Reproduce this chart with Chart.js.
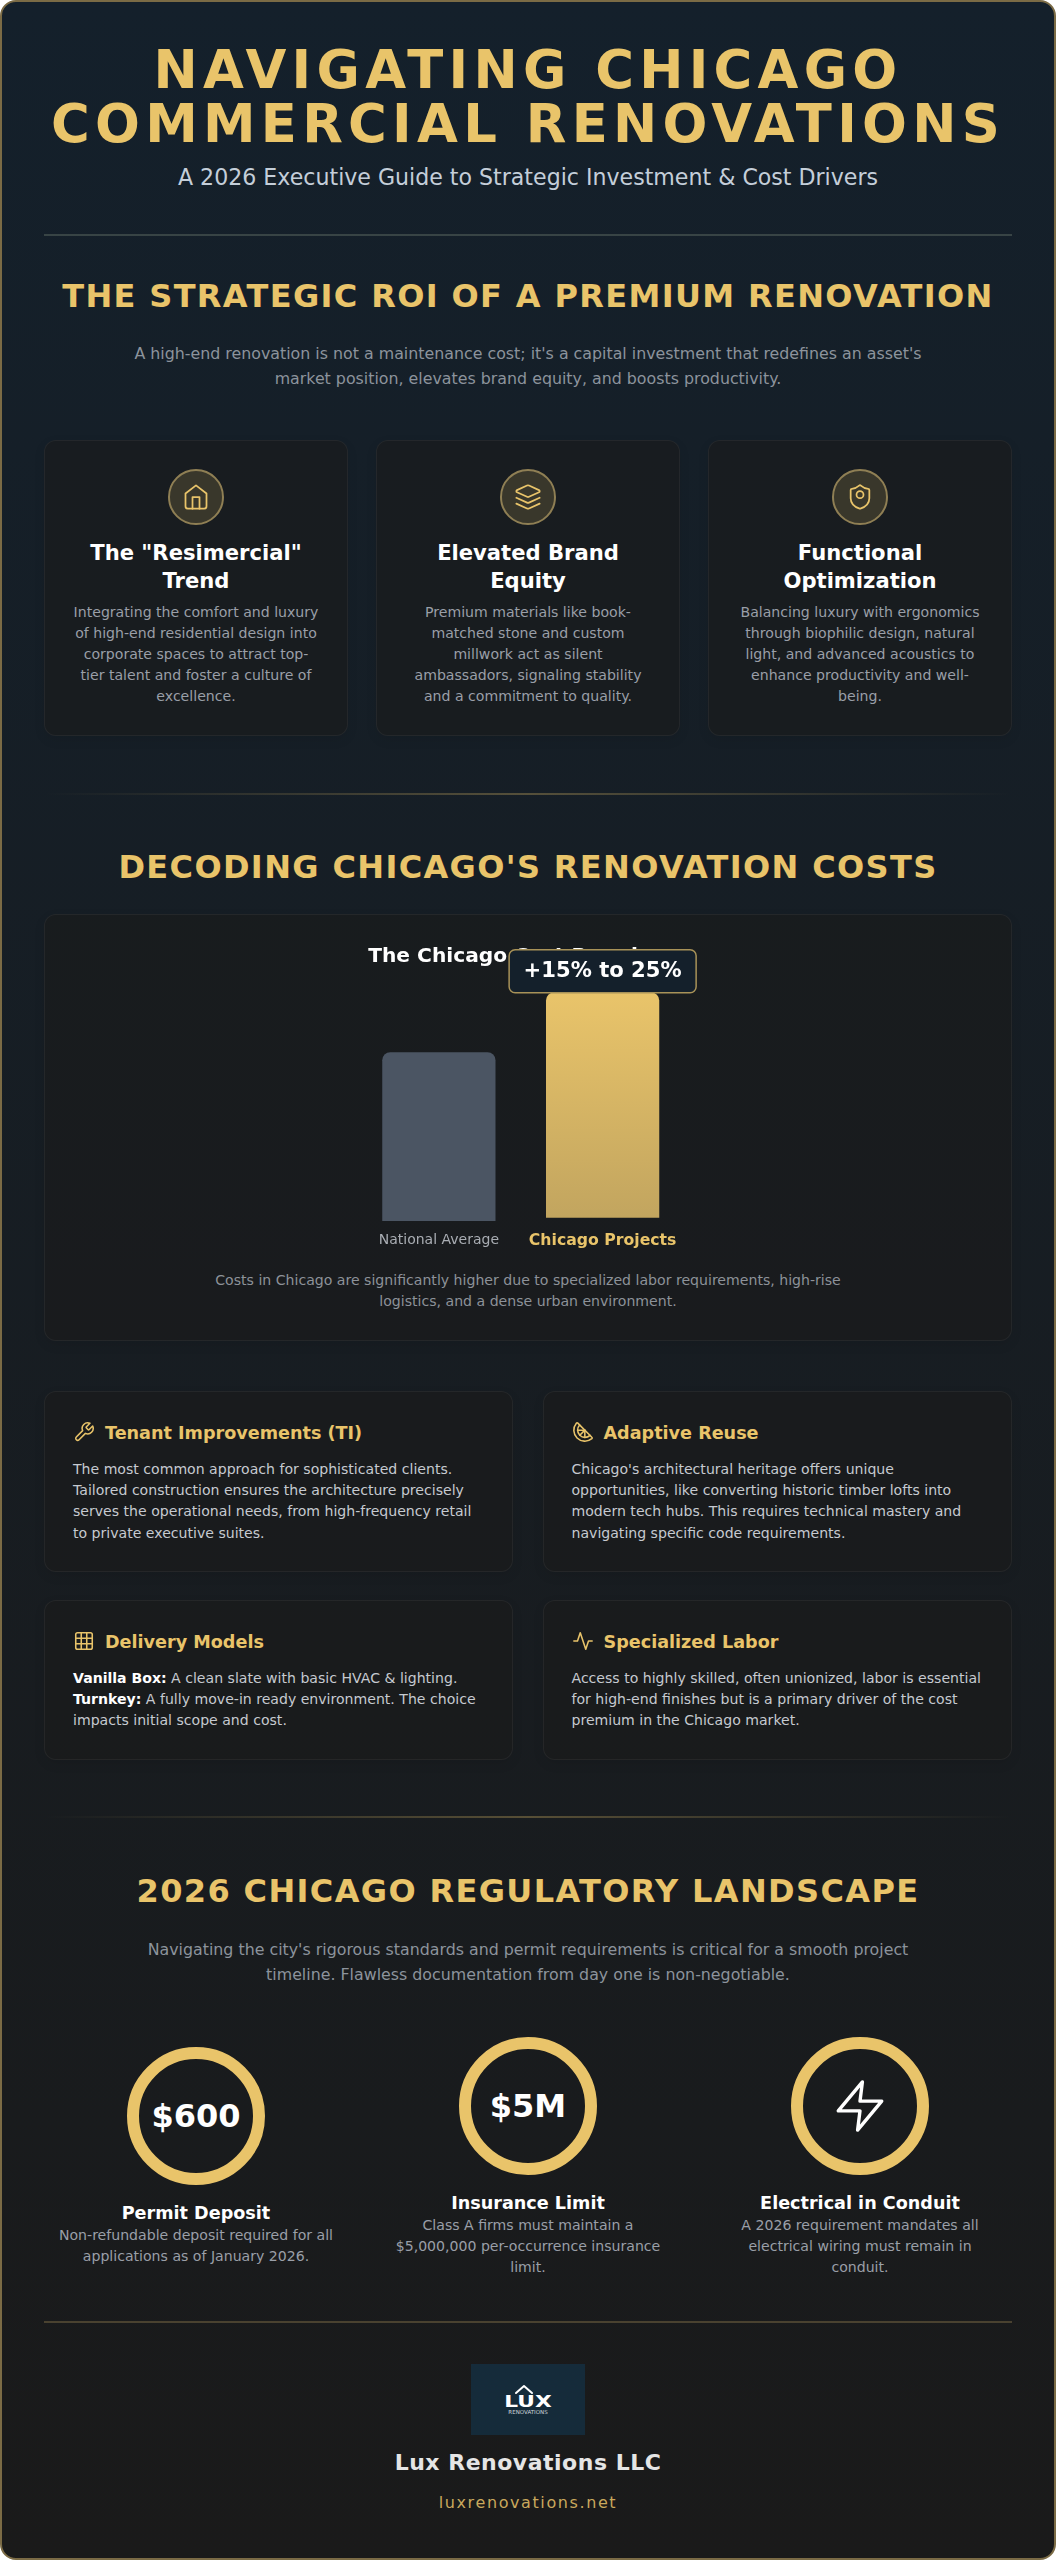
<!DOCTYPE html>
<html lang="en"><head><meta charset="utf-8">
<title>Navigating Chicago Commercial Renovations</title>
<script src="https://cdn.jsdelivr.net/npm/chart.js@4"></script>
<style>
html,body{margin:0;padding:0;background:#fff}
body{width:1056px;height:2560px;position:relative;overflow:hidden;font-family:"DejaVu Sans",sans-serif}
#frame{position:absolute;left:0;top:0;width:1056px;height:2560px;box-sizing:border-box;border:2px solid #7b6b45;border-radius:16px;background:linear-gradient(180deg,#14202b 0%,#1a1a1a 100%)}
.a{position:absolute}
.c{position:absolute;text-align:center;white-space:nowrap;left:0;width:1056px}
.gold{color:#e9c46a;font-weight:700}
h1,h2,h3,p{margin:0;font-weight:inherit;font-size:inherit}
.h2{font-size:32px;line-height:40px;letter-spacing:1.36px}
.lead{font-size:15.84px;line-height:25px;color:#8c939c}
.card{position:absolute;box-sizing:border-box;background:rgba(26,26,26,.6);border:1px solid rgba(255,255,255,.05);border-radius:12px;box-shadow:0 4px 12px rgba(0,0,0,.08)}
.ring{position:absolute;left:50%;transform:translateX(-50%);top:28px;width:56px;height:56px;box-sizing:border-box;border-radius:50%;background:rgba(233,196,106,.16);border:2px solid #8f7f54;display:flex;align-items:center;justify-content:center}
.ct{position:absolute;left:0;right:0;top:98px;text-align:center;color:#fff;font-weight:700;font-size:21.12px;line-height:28px;white-space:nowrap}
.cd{position:absolute;left:0;right:0;top:161px;text-align:center;color:#9a9fa8;font-size:14.1px;line-height:21px;white-space:nowrap}
.ih{position:absolute;left:60px;color:#e9c46a;font-weight:700;font-size:17.6px;line-height:24px;white-space:nowrap}
.ib{position:absolute;left:28px;color:#c6cad0;font-size:14.08px;line-height:21.2px;white-space:nowrap}
.ib b{color:#fff;font-weight:700}
.ii{position:absolute;left:28px}
svg{display:block;fill:none;stroke-linecap:round;stroke-linejoin:round}
.rc{position:absolute;box-sizing:border-box;width:138px;height:138px;border:12px solid #e9c46a;border-radius:50%;display:flex;align-items:center;justify-content:center;color:#fff;font-weight:700;font-size:32px}
.rt{color:#fff;font-weight:700;font-size:17.6px;line-height:24px}
.rd{color:#9a9fa8;font-size:14.1px;line-height:21.2px}
.w{position:absolute;text-align:center;white-space:nowrap;width:332px}
</style></head><body>
<div id="frame"></div>

<h1 class="c gold" style="top:43px;font-size:52.8px;line-height:53.5px;letter-spacing:5.28px">NAVIGATING CHICAGO<br>COMMERCIAL RENOVATIONS</h1>
<p class="c" style="top:162px;font-size:22.1px;line-height:30px;color:#c4ced9">A 2026 Executive Guide to Strategic Investment &amp; Cost Drivers</p>
<div class="a" style="left:44px;top:234px;width:968px;height:2px;background:#384445"></div>

<h2 class="c gold h2" style="top:276px">THE STRATEGIC ROI OF A PREMIUM RENOVATION</h2>
<p class="c lead" style="top:341px">A high-end renovation is not a maintenance cost; it's a capital investment that redefines an asset's<br>market position, elevates brand equity, and boosts productivity.</p>

<div class="card" style="left:44px;top:440px;width:304px;height:296px">
 <div class="ring"><svg width="28" height="28" viewBox="0 0 24 24" stroke="#e9c46a" stroke-width="1.5"><path d="m3 9 9-7 9 7v11a2 2 0 0 1-2 2H5a2 2 0 0 1-2-2z"/><polyline points="9 22 9 12 15 12 15 22"/></svg></div>
 <h3 class="ct">The "Resimercial"<br>Trend</h3>
 <p class="cd">Integrating the comfort and luxury<br>of high-end residential design into<br>corporate spaces to attract top-<br>tier talent and foster a culture of<br>excellence.</p>
</div>
<div class="card" style="left:376px;top:440px;width:304px;height:296px">
 <div class="ring"><svg width="28" height="28" viewBox="0 0 24 24" stroke="#e9c46a" stroke-width="1.5"><path d="m12.83 2.18a2 2 0 0 0-1.66 0L2.6 6.08a1 1 0 0 0 0 1.83l8.58 3.91a2 2 0 0 0 1.66 0l8.58-3.9a1 1 0 0 0 0-1.83Z"/><path d="m22 17.65-9.17 4.16a2 2 0 0 1-1.66 0L2 17.65"/><path d="m22 12.65-9.17 4.16a2 2 0 0 1-1.66 0L2 12.65"/></svg></div>
 <h3 class="ct">Elevated Brand<br>Equity</h3>
 <p class="cd">Premium materials like book-<br>matched stone and custom<br>millwork act as silent<br>ambassadors, signaling stability<br>and a commitment to quality.</p>
</div>
<div class="card" style="left:708px;top:440px;width:304px;height:296px">
 <div class="ring"><svg width="28" height="28" viewBox="0 0 24 24" stroke="#e9c46a" stroke-width="1.5"><path d="M20 13c0 5-3.5 7.5-7.66 8.95a1 1 0 0 1-.67-.01C7.5 20.5 4 18 4 13V6a1 1 0 0 1 1-1c2 0 4.5-1.2 6.24-2.72a1.17 1.17 0 0 1 1.52 0C14.51 3.81 17 5 19 5a1 1 0 0 1 1 1z"/><circle cx="12" cy="10" r="3"/></svg></div>
 <h3 class="ct">Functional<br>Optimization</h3>
 <p class="cd">Balancing luxury with ergonomics<br>through biophilic design, natural<br>light, and advanced acoustics to<br>enhance productivity and well-<br>being.</p>
</div>

<div class="a" style="left:44px;top:793px;width:968px;height:2px;background:linear-gradient(90deg,transparent,rgba(233,196,106,.3),transparent)"></div>
<h2 class="c gold h2" style="top:847px">DECODING CHICAGO'S RENOVATION COSTS</h2>

<div class="card" style="left:44px;top:914px;width:968px;height:427px"></div>
<canvas id="costChart" class="a" width="968" height="340" style="left:44px;top:914px"></canvas>
<p class="c" style="top:1270px;font-size:14.1px;line-height:21.3px;color:#8d9299">Costs in Chicago are significantly higher due to specialized labor requirements, high-rise<br>logistics, and a dense urban environment.</p>

<div class="card" style="left:44px;top:1391px;width:469px;height:181px">
 <svg class="ii" style="top:29px" width="22" height="22" viewBox="0 0 24 24" stroke="#e9c46a" stroke-width="1.7"><path d="M14.7 6.3a1 1 0 0 0 0 1.4l1.6 1.6a1 1 0 0 0 1.4 0l3.77-3.77a6 6 0 0 1-7.94 7.94l-6.91 6.91a2.12 2.12 0 0 1-3-3l6.91-6.91a6 6 0 0 1 7.94-7.94l-3.76 3.76z"/></svg>
 <h3 class="ih" style="top:29px">Tenant Improvements (TI)</h3>
 <p class="ib" style="top:67px">The most common approach for sophisticated clients.<br>Tailored construction ensures the architecture precisely<br>serves the operational needs, from high-frequency retail<br>to private executive suites.</p>
</div>
<div class="card" style="left:542.5px;top:1391px;width:469.5px;height:181px">
 <svg class="ii" style="top:29px" width="22" height="22" viewBox="0 0 24 24" stroke="#e9c46a" stroke-width="1.7"><path d="M21.66 17.67a1.08 1.08 0 0 1-.04 1.6A12 12 0 0 1 4.73 2.38a1.1 1.1 0 0 1 1.61-.04z"/><path d="M19.65 15.66A8 8 0 0 1 8.35 4.34"/><path d="m14 10-5.5 5.5"/><path d="M14 17.85V10H6.15"/></svg>
 <h3 class="ih" style="top:29px">Adaptive Reuse</h3>
 <p class="ib" style="top:67px">Chicago's architectural heritage offers unique<br>opportunities, like converting historic timber lofts into<br>modern tech hubs. This requires technical mastery and<br>navigating specific code requirements.</p>
</div>
<div class="card" style="left:44px;top:1600px;width:469px;height:160px">
 <svg class="ii" style="top:29px" width="22" height="22" viewBox="0 0 24 24" stroke="#e9c46a" stroke-width="1.7"><rect width="18" height="18" x="3" y="3" rx="2"/><path d="M3 9h18"/><path d="M3 15h18"/><path d="M9 3v18"/><path d="M15 3v18"/></svg>
 <h3 class="ih" style="top:29px">Delivery Models</h3>
 <p class="ib" style="top:67px"><b>Vanilla Box:</b> A clean slate with basic HVAC &amp; lighting.<br><b>Turnkey:</b> A fully move-in ready environment. The choice<br>impacts initial scope and cost.</p>
</div>
<div class="card" style="left:542.5px;top:1600px;width:469.5px;height:160px">
 <svg class="ii" style="top:29px" width="22" height="22" viewBox="0 0 24 24" stroke="#e9c46a" stroke-width="1.7"><path d="M22 12h-4l-3 9L9 3l-3 9H2"/></svg>
 <h3 class="ih" style="top:29px">Specialized Labor</h3>
 <p class="ib" style="top:67px">Access to highly skilled, often unionized, labor is essential<br>for high-end finishes but is a primary driver of the cost<br>premium in the Chicago market.</p>
</div>

<div class="a" style="left:44px;top:1816px;width:968px;height:2px;background:linear-gradient(90deg,transparent,rgba(233,196,106,.3),transparent)"></div>
<h2 class="c gold h2" style="top:1871px">2026 CHICAGO REGULATORY LANDSCAPE</h2>
<p class="c lead" style="top:1937px">Navigating the city's rigorous standards and permit requirements is critical for a smooth project<br>timeline. Flawless documentation from day one is non-negotiable.</p>

<div class="rc" style="left:127px;top:2047px">$600</div>
<div class="rc" style="left:459px;top:2037px">$5M</div>
<div class="rc" style="left:791px;top:2037px"><svg width="58" height="58" viewBox="0 0 24 24" stroke="#fff" stroke-width="1.4"><path d="M13 2 3 14h9l-1 8 10-12h-9l1-8z"/></svg></div>

<div class="w" style="left:30px;top:2201px"><h3 class="rt">Permit Deposit</h3><p class="rd">Non-refundable deposit required for all<br>applications as of January 2026.</p></div>
<div class="w" style="left:362px;top:2191px"><h3 class="rt">Insurance Limit</h3><p class="rd">Class A firms must maintain a<br>$5,000,000 per-occurrence insurance<br>limit.</p></div>
<div class="w" style="left:694px;top:2191px"><h3 class="rt">Electrical in Conduit</h3><p class="rd">A 2026 requirement mandates all<br>electrical wiring must remain in<br>conduit.</p></div>

<div class="a" style="left:44px;top:2321px;width:968px;height:2px;background:#4a4230"></div>
<div class="a" style="left:471px;top:2364px;width:114px;height:71px;background:#152b3a"></div>
<svg class="a" style="left:500px;top:2380px" width="56" height="38" viewBox="0 0 56 38"><path d="M16 13 24 6 32 13" stroke="#fff" stroke-width="2"/></svg>
<div class="a" style="left:471px;top:2395px;width:114px;text-align:center;color:#fff;font:700 15px/15px 'DejaVu Sans';transform:scaleX(1.45)">LUX</div>
<div class="a" style="left:471px;top:2410px;width:114px;text-align:center;color:#cfd6da;font:5.5px/5px 'DejaVu Sans';white-space:nowrap">RENOVATIONS</div>
<p class="c" style="top:2448px;font-size:22px;line-height:30px;font-weight:700;color:#e5e5e5;letter-spacing:0.5px">Lux Renovations LLC</p>
<p class="c" style="top:2492px;font-size:16px;line-height:22px;color:#c9a85c;letter-spacing:1.6px">luxrenovations.net</p>

<script>
const costCategories = ['National Average', 'Chicago Projects'];
const costValues = [75, 100];
const costBases = [0, 1.6];
const costTitle = 'The Chicago Cost Premium';
const premiumLabel = '+15% to 25%';

const FONT = '"DejaVu Sans", sans-serif';
Chart.defaults.font.family = FONT;

const badgePlugin = {
  id: 'premiumBadge',
  afterDraw(chart) {
    const bar = chart.getDatasetMeta(0).data[1];
    const ctx = chart.ctx, w = 187, h = 43, x = bar.x - w / 2, y = bar.y - h;
    ctx.save();
    ctx.beginPath();
    ctx.roundRect(x, y, w, h, 6);
    ctx.fillStyle = '#14202b';
    ctx.fill();
    ctx.lineWidth = 1.5;
    ctx.strokeStyle = '#a89258';
    ctx.stroke();
    ctx.fillStyle = '#fff';
    ctx.font = '700 21.12px ' + FONT;
    ctx.textAlign = 'center';
    ctx.textBaseline = 'middle';
    ctx.fillText(premiumLabel, bar.x, y + h / 2 + 0.5);
    ctx.restore();
  }
};

new Chart(document.getElementById('costChart'), {
  type: 'bar',
  plugins: [badgePlugin],
  data: {
    labels: costCategories,
    datasets: [{
      data: costValues.map((v, i) => [costBases[i], costBases[i] + v]),
      barThickness: 112.6,
      borderSkipped: false,
      borderRadius: { topLeft: 8, topRight: 8, bottomLeft: 0, bottomRight: 0 },
      backgroundColor(c) {
        if (c.dataIndex === 0) return '#4b5563';
        const y = c.chart.scales.y, g = c.chart.ctx.createLinearGradient(0, y.getPixelForValue(costBases[1] + costValues[1]), 0, y.getPixelForValue(costBases[1]));
        g.addColorStop(0, '#e9c46a');
        g.addColorStop(1, '#c2a55f');
        return g;
      }
    }]
  },
  options: {
    responsive: false,
    animation: false,
    devicePixelRatio: 1,
    layout: { padding: { left: 313, right: 327.5, top: 0, bottom: 0 } },
    plugins: {
      legend: { display: false },
      tooltip: { enabled: false },
      title: {
        display: true, text: costTitle, color: '#fff',
        font: { size: 20.2, weight: '700' },
        padding: { top: 31, bottom: 4.7 }
      }
    },
    scales: {
      y: { display: false, min: 0, max: 110 },
      x: {
        afterFit(s) { s.height = 33; },
        grid: { display: false },
        border: { display: false },
        ticks: {
          padding: 3, autoSkip: false, maxRotation: 0,
          color: c => c.index === 1 ? '#e9c46a' : '#a9adb3',
          font: c => c.index === 1 ? { size: 15.7, weight: '700' } : { size: 14 }
        }
      }
    }
  }
});
</script>
</body></html>
